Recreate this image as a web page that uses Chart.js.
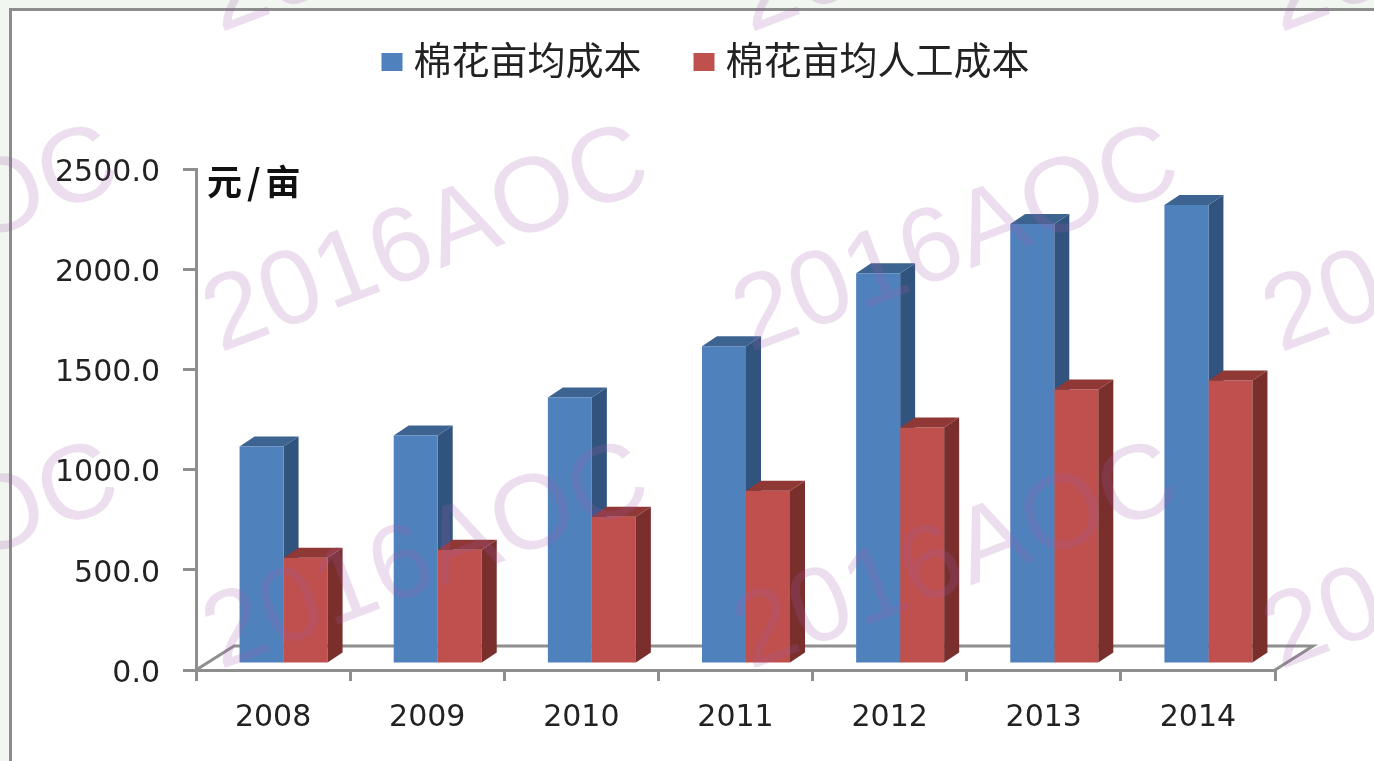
<!DOCTYPE html>
<html>
<head>
<meta charset="utf-8">
<title>棉花亩均成本</title>
<script src="https://cdn.jsdelivr.net/npm/chart.js@4"></script>
<style>
  html, body { margin: 0; padding: 0; width: 1374px; height: 761px; overflow: hidden; background: #f1f6f1; }
  #frame { position: absolute; left: 9px; top: 8px; width: 1400px; height: 800px; background: #fff; border: 3px solid #8c8c8c; }
  #cotton-chart { position: absolute; left: 0; top: 0; }
</style>
</head>
<body>
<div id="frame"></div>
<canvas id="cotton-chart" width="1374" height="761"></canvas>
<script>
var years = ["2008", "2009", "2010", "2011", "2012", "2013", "2014"];
var totalCost = [1085, 1140, 1330, 1585, 1950, 2195, 2290];
var laborCost = [530, 570, 735, 865, 1180, 1370, 1415];
var seriesNames = ["棉花亩均成本", "棉花亩均人工成本"];
var seriesColors = ['#4f81bd', '#c0504d'];
var unitLabel = "元/亩";
var watermarkText = "2016AOC";

// fake 3D look, the library only draws the front faces
var depthX = 15, depthY = 10;
var shiftX = 10.5, shiftY = 6;
var floorX = 38, floorY = 24;

function drawSides(ctx, bar, sideColor, topColor) {
  var left = bar.x - bar.width / 2, right = bar.x + bar.width / 2;
  ctx.fillStyle = sideColor;
  ctx.beginPath();
  ctx.moveTo(right, bar.y);
  ctx.lineTo(right + depthX, bar.y - depthY);
  ctx.lineTo(right + depthX, bar.base - depthY);
  ctx.lineTo(right, bar.base);
  ctx.closePath();
  ctx.fill();
  ctx.fillStyle = topColor;
  ctx.beginPath();
  ctx.moveTo(left, bar.y);
  ctx.lineTo(left + depthX, bar.y - depthY);
  ctx.lineTo(right + depthX, bar.y - depthY);
  ctx.lineTo(right, bar.y);
  ctx.closePath();
  ctx.fill();
}

var fakeDepth = {
  id: 'fakeDepth',
  beforeLayout: function(chart) {
    // room between the legend and the plot
    var legend = chart.legend;
    if (!legend.origFit) {
      legend.origFit = legend.fit;
      legend.fit = function() {
        legend.origFit();
        legend.height = 180;
      };
    }
  },
  beforeDatasetsDraw: function(chart) {
    var ctx = chart.ctx, area = chart.chartArea;
    // floor
    ctx.save();
    ctx.strokeStyle = '#8e8e8e';
    ctx.lineWidth = 3;
    ctx.beginPath();
    ctx.moveTo(area.left, area.bottom);
    ctx.lineTo(area.left + floorX, area.bottom - floorY);
    ctx.lineTo(area.right + floorX, area.bottom - floorY);
    ctx.lineTo(area.right, area.bottom);
    ctx.stroke();
    ctx.restore();
    ctx.save();
    ctx.translate(shiftX, -shiftY);
    chart.getDatasetMeta(0).data.forEach(function(bar) {
      drawSides(ctx, bar, '#31547f', '#3d6491');
    });
  },
  afterDatasetsDraw: function(chart) {
    var ctx = chart.ctx;
    chart.getDatasetMeta(1).data.forEach(function(bar) {
      drawSides(ctx, bar, '#7a2f2d', '#8f3836');
    });
    ctx.restore();
  },
  afterDraw: function(chart) {
    var ctx = chart.ctx;
    // legend swatches are wider than the label gap the library leaves
    chart.legend.legendHitBoxes.forEach(function(box, i) {
      ctx.fillStyle = seriesColors[i];
      ctx.fillRect(box.left, 53, 21, 18);
    });
    ctx.save();
    ctx.fillStyle = '#111';
    ctx.font = 'bold 35px "Noto Sans CJK SC"';
    ctx.letterSpacing = '5px';
    ctx.textBaseline = 'alphabetic';
    ctx.textAlign = 'left';
    ctx.fillText(unitLabel, 207, 195);
    ctx.restore();
    // watermark tiles
    var xs = [-325, 205, 735, 1265], ys = [33, 353, 670];
    ctx.save();
    ctx.fillStyle = 'rgba(160,90,170,0.2)';
    ctx.font = '106px "Liberation Sans"';
    ctx.textBaseline = 'alphabetic';
    ctx.textAlign = 'left';
    xs.forEach(function(x) {
      ys.forEach(function(y) {
        ctx.save();
        ctx.translate(x + 15, y);
        ctx.rotate(-21 * Math.PI / 180);
        ctx.fillText(watermarkText, 0, 0);
        ctx.restore();
      });
    });
    ctx.restore();
  }
};

var ctx = document.getElementById('cotton-chart');
var costChart = new Chart(ctx, {
  type: 'bar',
  data: {
    labels: years,
    datasets: [
      { label: seriesNames[0], data: totalCost, backgroundColor: seriesColors[0], borderWidth: 0 },
      { label: seriesNames[1], data: laborCost, backgroundColor: seriesColors[1], borderWidth: 0 }
    ]
  },
  options: {
    responsive: false,
    animation: false,
    layout: { padding: { left: 37, right: 0, top: -11, bottom: 0 } },
    datasets: { bar: { barPercentage: 1, categoryPercentage: 0.571 } },
    plugins: {
      tooltip: { enabled: false },
      legend: {
        position: 'top',
        labels: {
          boxWidth: 13,
          boxHeight: 0,
          padding: 52,
          color: '#222',
          font: { family: '"Noto Sans CJK SC"', size: 38 }
        }
      }
    },
    scales: {
      x: {
        afterFit: function(scale) { scale.height = 91; },
        border: { color: '#8e8e8e', width: 3 },
        grid: { color: '#8e8e8e', lineWidth: 3, drawOnChartArea: false, tickLength: 11 },
        ticks: { color: '#222', padding: 19, maxRotation: 0, font: { family: '"DejaVu Sans"', size: 30 } }
      },
      y: {
        min: 0,
        max: 2500,
        afterFit: function(scale) { scale.width = 159; },
        border: { color: '#8e8e8e', width: 3 },
        grid: { color: '#8e8e8e', lineWidth: 3, drawOnChartArea: false, tickLength: 13 },
        ticks: {
          color: '#222',
          stepSize: 500,
          padding: 23,
          labelOffset: 4,
          font: { family: '"DejaVu Sans"', size: 30 },
          callback: function(value) { return value.toFixed(1); }
        }
      },
      // empty axis, only keeps the plot clear of the right edge
      rightGap: {
        position: 'right',
        afterFit: function(scale) { scale.width = 99; },
        border: { display: false },
        grid: { display: false },
        ticks: { display: false }
      }
    }
  },
  plugins: [fakeDepth]
});
</script>
</body>
</html>
